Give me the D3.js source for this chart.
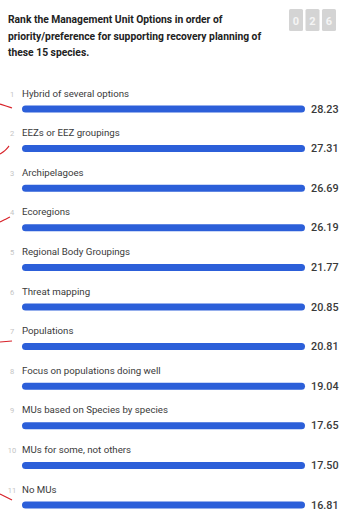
<!DOCTYPE html>
<html><head><meta charset="utf-8">
<script src="https://cdn.jsdelivr.net/npm/d3@7"></script>
<style>html,body{margin:0;padding:0;background:#fff;}svg{display:block;}</style>
</head><body>
<script>
const titleLines = ["Rank the Management Unit Options in order of","priority/preference for supporting recovery planning of","these 15 species."];
const counterDigits = ["0","2","6"];
const ranks = [1,2,3,4,5,6,7,8,9,10,11];
const categories = ["Hybrid of several options","EEZs or EEZ groupings","Archipelagoes","Ecoregions","Regional Body Groupings","Threat mapping","Populations","Focus on populations doing well","MUs based on Species by species","MUs for some, not others","No MUs"];
const scores = [28.23,27.31,26.69,26.19,21.77,20.85,20.81,19.04,17.65,17.50,16.81];

const W = 344, H = 512;
const svg = d3.select("body").append("svg").attr("width", W).attr("height", H);
const font = "Roboto, 'Open Sans', sans-serif";

svg.append("g").selectAll("text").data(titleLines).join("text")
  .attr("x", 8).attr("y", (d,i) => 23 + i*16.5)
  .attr("font-family", font).attr("font-weight", 700).attr("font-size", 10.3)
  .attr("fill", "#222").text(d => d);

const cx = d3.scaleBand().domain(counterDigits.map((d,i)=>i)).range([289, 336]).paddingInner(0.15);
const cg = svg.append("g").selectAll("g").data(counterDigits).join("g");
cg.append("rect").attr("x",(d,i)=>cx(i)).attr("y",9).attr("width",cx.bandwidth()).attr("height",22)
  .attr("rx",1.5).attr("fill","#d4d4d4");
cg.append("text").attr("x",(d,i)=>cx(i)+cx.bandwidth()/2).attr("y",24.5).attr("text-anchor","middle")
  .attr("font-family",font).attr("font-weight",700).attr("font-size",11).attr("fill","#f4f4f4").text(d=>d);

const y = d3.scaleBand().domain(categories).range([77, 77 + 39.6*categories.length]);
const x = d3.scaleLinear().domain([0, 1]).range([22, 305]);

const rows = svg.append("g").selectAll("g").data(categories).join("g")
  .attr("transform", d => `translate(0,${y(d)})`);
rows.append("text").attr("x", 12).attr("y", 19.5).attr("text-anchor","middle")
  .attr("font-family", font).attr("font-size", 7.5).attr("fill", "#c4c4c4").text((d,i)=>ranks[i]);
rows.append("text").attr("x", 22).attr("y", 19.5)
  .attr("font-family", font).attr("font-size", 9.7).attr("fill", "#3a3a3a").text(d => d);
rows.append("rect").attr("x", x(0)).attr("y", 28.5).attr("width", x(1)-x(0)).attr("height", 7)
  .attr("rx", 3.5).attr("fill", "#2c5fd9");
rows.append("text").attr("x", 311).attr("y", 35.5)
  .attr("font-family", font).attr("font-weight", 500).attr("font-size", 10.8).attr("fill", "#3a3a3a")
  .text((d,i) => scores[i].toFixed(2));

// red hand-drawn marks at left edge
const marks = [
  [[0,104],[6,106],[12,108]],
  [[0,154],[5,151],[9,146]],
  [[0,222],[6,219],[10,217]],
  [[0,342],[12,341]],
  [[0,494],[6,497],[12,500]]
];
svg.append("g").selectAll("path").data(marks).join("path")
  .attr("d", d3.line().curve(d3.curveBasis)).attr("fill","none")
  .attr("stroke","#d8232a").attr("stroke-width",1.2);
</script>
</body></html>
